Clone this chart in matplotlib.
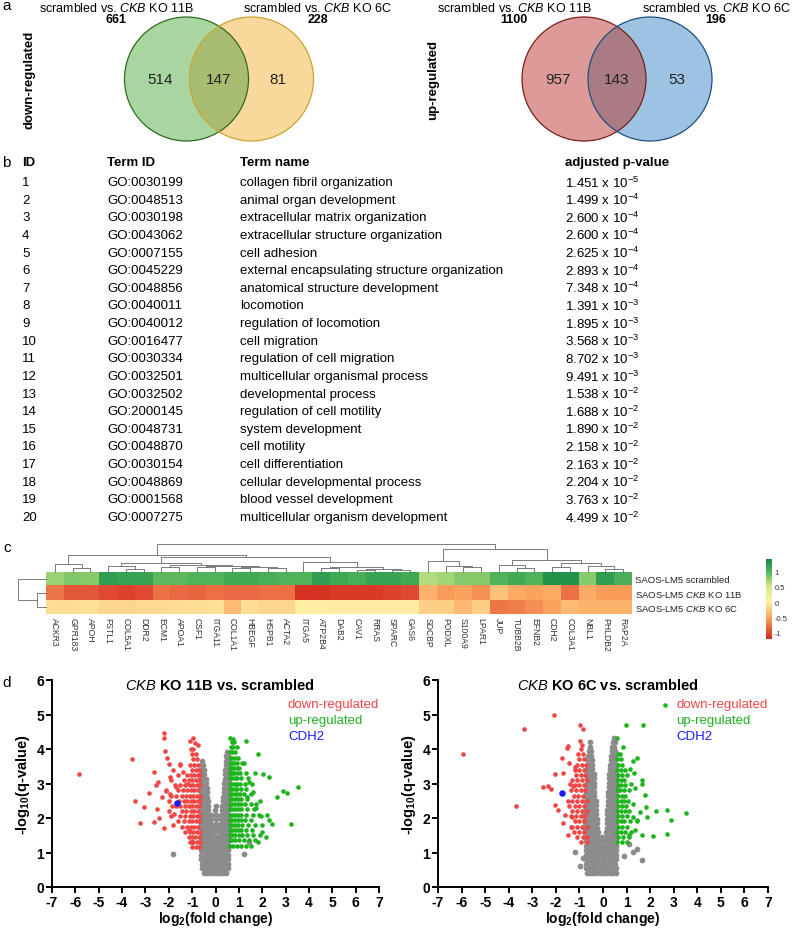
import numpy as np
import matplotlib
matplotlib.use('Agg')
import matplotlib.pyplot as plt
from matplotlib.patches import Circle
from matplotlib.colors import LinearSegmentedColormap, Normalize

plt.rcParams['font.family'] = ['Liberation Sans', 'DejaVu Sans']
plt.rcParams['mathtext.fontset'] = 'custom'
plt.rcParams['mathtext.rm'] = 'Liberation Sans'
plt.rcParams['mathtext.it'] = 'Liberation Sans:italic'
plt.rcParams['mathtext.bf'] = 'Liberation Sans:bold'
plt.rcParams['axes.unicode_minus'] = False

# ---- a: Venn counts ----
venn_titles = ['scrambled vs. $\\mathit{CKB}$ KO 11B', 'scrambled vs. $\\mathit{CKB}$ KO 6C']
down_counts = [514, 147, 81]
down_totals = [661, 228]
up_counts = [957, 143, 53]
up_totals = [1100, 196]

# ---- b: GO table ----
go_ids = ['GO:0030199', 'GO:0048513', 'GO:0030198', 'GO:0043062', 'GO:0007155',
          'GO:0045229', 'GO:0048856', 'GO:0040011', 'GO:0040012', 'GO:0016477',
          'GO:0030334', 'GO:0032501', 'GO:0032502', 'GO:2000145', 'GO:0048731',
          'GO:0048870', 'GO:0030154', 'GO:0048869', 'GO:0001568', 'GO:0007275']
go_names = ['collagen fibril organization', 'animal organ development',
            'extracellular matrix organization', 'extracellular structure organization',
            'cell adhesion', 'external encapsulating structure organization',
            'anatomical structure development', 'locomotion', 'regulation of locomotion',
            'cell migration', 'regulation of cell migration', 'multicellular organismal process',
            'developmental process', 'regulation of cell motility', 'system development',
            'cell motility', 'cell differentiation', 'cellular developmental process',
            'blood vessel development', 'multicellular organism development']
padj_mant = ['1.451', '1.499', '2.600', '2.600', '2.625', '2.893', '7.348', '1.391', '1.895', '3.568',
             '8.702', '9.491', '1.538', '1.688', '1.890', '2.158', '2.163', '2.204', '3.763', '4.499']
padj_exp = [-5, -4, -4, -4, -4, -4, -4, -3, -3, -3, -3, -3, -2, -2, -2, -2, -2, -2, -2, -2]

# ---- c: heatmap ----
genes = ['ACKR3', 'GPR183', 'APOH', 'FSTL1', 'COL5A1', 'DDR2', 'ECM1', 'APOA1', 'CSF1', 'ITGA11',
         'COL1A1', 'HBEGF', 'HSPB1', 'ACTA2', 'ITGA5', 'ATP2B4', 'DAB2', 'CAV1', 'RRAS', 'SPARC',
         'GAS6', 'SDCBP', 'PODXL', 'S100A9', 'LPAR1', 'JUP', 'TUBB2B', 'EFNB2', 'CDH2', 'COL3A1',
         'NBL1', 'PHLDB2', 'RAP2A']
samples = ['SAOS-LM5 scrambled', 'SAOS-LM5 $\\mathit{CKB}$ KO 11B', 'SAOS-LM5 $\\mathit{CKB}$ KO 6C']
z_scrambled = [0.72, 0.82, 0.8, 1.2, 1.15, 1.15, 0.95, 0.95, 1.0, 1.0, 1.1, 1.1, 1.05, 1.0, 1.0, 1.2, 1.1,
               1.05, 1.15, 1.15, 1.1, 0.62, 0.68, 0.8, 0.8, 1.0, 1.1, 1.0, 1.3, 1.3, 0.8, 1.2, 1.05]
z_ko11b = [-0.75, -0.92, -0.92, -1.0, -1.05, -1.0, -0.78, -0.82, -0.85, -0.78, -0.82, -0.82, -0.78, -0.78,
           -1.15, -1.15, -1.1, -1.1, -1.1, -1.05, -1.0, -0.4, -0.55, -0.5, -0.6, -0.3, -0.45, -0.5,
           -0.45, -0.78, -0.45, -0.55, -0.55]
z_ko6c = [-0.12, -0.12, -0.1, -0.17, -0.17, -0.15, -0.15, -0.12, -0.12, -0.1, -0.35, -0.12, -0.17, -0.17,
          -0.02, -0.02, -0.04, -0.04, -0.04, -0.04, -0.04, -0.22, -0.22, -0.36, -0.22, -0.75, -0.72,
          -0.62, -0.5, -0.35, -0.4, -0.4, -0.4]
# colour scale stops (value, colour)
cbar_stops = [(-1.2, '#d42d1f'), (-1.0, '#df4a33'), (-0.5, '#fca45e'), (0.0, '#fff0a6'),
              (0.5, '#d4ec88'), (1.0, '#52b45a'), (1.4, '#138a45')]
# dendrograms: (left, right, height), leaves are gene / sample indices
col_tree = (((0, (1, 2, 4), 8),
             (((3, (4, 5, 3), 6.5), ((6, 7, 5), ((8, 9, 5.5), ((10, 11, 4), (12, 13, 4), 5), 6.5), 7.5), 9),
              (14, ((15, 16, 4.5), ((17, 18, 2.5), (19, 20, 2), 3.5), 5.5), 10), 15), 17.5),
            ((21, (22, (23, 24, 5), 6.5), 11),
             ((25, (26, 27, 4), 7), ((28, 29, 5), (30, (31, 32, 3.5), 6), 9.5), 12), 23), 28)
row_tree = (0, (1, 2, 9), 28)

# ---- d: volcano plots (log2 FC, -log10 q) ----
v1_gray = [
    (0.42, [-0.5, -0.36, -0.22, -0.08, 0.06, 0.2, 0.34, 0.45]),
    (0.54, [-0.56, -0.42, -0.28, -0.14, 0.0, 0.14, 0.28, 0.42, 0.52]),
    (0.67, [-0.58, -0.45, -0.31, -0.17, -0.03, 0.11, 0.25, 0.39, 0.52]),
    (0.8, [-0.6, -0.47, -0.33, -0.19, -0.06, 0.07, 0.2, 0.33, 0.45, 0.54]),
    (0.93, [-0.6, -0.47, -0.34, -0.21, -0.08, 0.05, 0.18, 0.31, 0.43, 0.54]),
    (1.06, [-0.62, -0.49, -0.36, -0.23, -0.1, 0.03, 0.16, 0.29, 0.42, 0.54]),
    (1.19, [-0.62, -0.5, -0.37, -0.24, -0.11, 0.02, 0.15, 0.28, 0.41, 0.54]),
    (1.32, [-0.62, -0.5, -0.38, -0.26, -0.13, 0.0, 0.14, 0.27, 0.4, 0.54]),
    (1.45, [-0.62, -0.5, -0.38, -0.26, -0.14, 0.0, 0.16, 0.29, 0.42, 0.54]),
    (1.58, [-0.62, -0.5, -0.38, -0.27, -0.16, -0.02, 0.18, 0.3, 0.43, 0.54]),
    (1.71, [-0.62, -0.5, -0.39, -0.28, -0.17, 0.0, 0.2, 0.32, 0.44, 0.54]),
    (1.84, [-0.62, -0.51, -0.4, -0.29, -0.18, 0.01, 0.22, 0.33, 0.45, 0.55]),
    (1.97, [-0.62, -0.51, -0.4, -0.3, -0.2, 0.0, 0.23, 0.34, 0.45, 0.55]),
    (2.1, [-0.62, -0.51, -0.41, -0.31, -0.21, 0.01, 0.25, 0.35, 0.46, 0.55]),
    (2.23, [-0.62, -0.52, -0.42, -0.32, -0.02, 0.27, 0.37, 0.47, 0.55]),
    (2.36, [-0.62, -0.52, -0.43, -0.33, 0.0, 0.29, 0.38, 0.47, 0.55]),
    (2.49, [-0.62, -0.52, -0.43, -0.34, 0.31, 0.4, 0.48, 0.55]),
    (2.62, [-0.62, -0.53, -0.44, -0.35, 0.33, 0.41, 0.49, 0.55]),
    (2.75, [-0.62, -0.53, -0.45, -0.37, 0.35, 0.42, 0.5, 0.56]),
    (2.88, [-0.62, -0.54, -0.46, -0.38, 0.37, 0.44, 0.51, 0.56]),
    (3.01, [-0.62, -0.54, -0.47, -0.4, 0.38, 0.45, 0.51, 0.56]),
    (3.14, [-0.62, -0.55, -0.48, -0.42, 0.4, 0.46, 0.52, 0.56]),
    (3.27, [-0.61, -0.55, -0.49, 0.41, 0.47, 0.52, 0.56]),
    (3.4, [-0.6, -0.54, -0.49, 0.42, 0.48, 0.53, 0.56]),
    (3.53, [-0.58, -0.53, 0.43, 0.49, 0.54]),
    (3.66, [-0.56, 0.45, 0.5, 0.55]),
    (3.79, [0.47, 0.53]),
    (3.92, [0.5]),
    (0.95, [-1.8, 1.2]),
    (1.3, [-1.0, 1.45]),
]
v1_down = [
    (1.15, [-1.0, -0.85, -0.7]),
    (1.3, [-1.1, -0.95, -0.8, -0.67]),
    (1.45, [-1.15, -1.0, -0.86, -0.72]),
    (1.6, [-1.3, -1.1, -0.95, -0.8, -0.67]),
    (1.75, [-1.45, -1.2, -1.05, -0.9, -0.75]),
    (1.9, [-1.6, -1.35, -1.15, -1.0, -0.85, -0.7]),
    (2.05, [-1.9, -1.5, -1.3, -1.1, -0.95, -0.8, -0.67]),
    (2.2, [-2.0, -1.45, -1.25, -1.05, -0.9, -0.75]),
    (2.35, [-1.7, -1.5, -1.3, -1.15, -1.0, -0.85, -0.7]),
    (2.5, [-2.0, -1.55, -1.35, -1.2, -1.05, -0.9, -0.76, -0.66]),
    (2.65, [-1.9, -1.7, -1.45, -1.25, -1.1, -0.95, -0.8, -0.68]),
    (2.8, [-2.1, -1.6, -1.4, -1.2, -1.05, -0.9, -0.75]),
    (2.95, [-1.75, -1.5, -1.3, -1.1, -0.95, -0.8, -0.68]),
    (3.1, [-1.9, -1.35, -1.15, -1.0, -0.85, -0.7]),
    (3.25, [-1.6, -1.2, -1.05, -0.9, -0.75, -0.65]),
    (3.4, [-1.8, -1.0, -0.85, -0.7]),
    (3.55, [-1.5, -1.1, -0.9, -0.75]),
    (3.7, [-0.95, -0.8]),
    (3.85, [-1.0, -0.85]),
    (4.0, [-1.05, -0.95]),
    (3.27, [-5.83]), (3.7, [-3.58]), (2.48, [-3.46]), (2.33, [-3.08]), (1.86, [-3.25]),
    (2.72, [-2.84]), (3.32, [-2.65]), (1.89, [-2.65]), (3.03, [-2.47]), (4.47, [-2.22]),
    (4.33, [-2.2]), (3.94, [-2.18]), (3.75, [-2.08]), (3.56, [-2.01]), (2.79, [-2.11]),
    (2.36, [-1.87]), (1.79, [-1.84]), (2.11, [-1.77]), (3.56, [-1.51]), (3.32, [-1.4]),
    (2.99, [-1.23]), (1.65, [-1.15]), (4.23, [-1.08]), (4.33, [-0.98]), (4.18, [-0.87]),
    (4.13, [-0.77]), (2.6, [-2.3]), (2.0, [-2.4]), (2.25, [-2.5]), (3.2, [-1.95]),
    (2.9, [-1.7]), (1.7, [-2.2]), (2.7, [-1.95]), (2.95, [-2.55]),
]
v1_up = [
    (1.2, [0.6, 0.75, 0.9, 1.1, 1.3, 1.5]),
    (1.35, [0.6, 0.72, 0.85, 1.0, 1.2, 1.45, 1.7]),
    (1.5, [0.6, 0.72, 0.85, 1.0, 1.15, 1.35, 1.6, 1.9]),
    (1.65, [0.6, 0.72, 0.85, 0.98, 1.1, 1.3, 1.55]),
    (1.8, [0.6, 0.72, 0.85, 0.98, 1.15, 1.4, 1.7, 2.0]),
    (1.95, [0.6, 0.72, 0.85, 0.97, 1.1, 1.25, 1.5]),
    (2.1, [0.6, 0.72, 0.84, 0.96, 1.1, 1.3, 1.6, 1.85]),
    (2.25, [0.6, 0.72, 0.84, 0.96, 1.1, 1.35, 1.65]),
    (2.4, [0.6, 0.72, 0.84, 0.95, 1.08, 1.25, 1.5, 1.75]),
    (2.55, [0.6, 0.72, 0.84, 0.95, 1.1, 1.35]),
    (2.7, [0.6, 0.72, 0.83, 0.94, 1.05, 1.2, 1.5]),
    (2.85, [0.6, 0.72, 0.83, 0.94, 1.08, 1.3]),
    (3.0, [0.6, 0.71, 0.82, 0.93, 1.05, 1.25, 1.55]),
    (3.15, [0.6, 0.71, 0.82, 0.93, 1.1, 1.4]),
    (3.3, [0.6, 0.7, 0.8, 0.92, 1.05, 1.3]),
    (3.45, [0.6, 0.7, 0.8, 0.9, 1.02]),
    (3.6, [0.6, 0.7, 0.8, 0.92, 1.15]),
    (3.75, [0.6, 0.7, 0.82, 0.95]),
    (3.9, [0.62, 0.72, 0.85]),
    (4.05, [0.65, 0.75, 0.9]),
    (4.2, [0.7, 0.8]),
    (2.91, [3.55]), (1.84, [3.22]), (2.72, [3.05]), (2.78, [2.88]), (2.62, [2.62]),
    (1.82, [2.41]), (1.93, [2.31]), (2.08, [2.2]), (1.45, [2.15]), (3.27, [2.05]),
    (3.85, [1.84]), (3.18, [2.27]), (4.23, [1.3]), (4.28, [0.77]), (4.33, [0.63]),
    (2.5, [1.9]), (2.3, [1.75]), (1.6, [2.0]), (2.75, [1.6]), (1.3, [1.8]),
    (2.05, [1.95]), (3.05, [1.45]), (3.3, [1.7]), (3.6, [1.2]), (2.6, [1.35]),
]
v1_cdh2 = [(2.44, [-1.63])]

v2_gray = [
    (0.42, [-0.7, -0.56, -0.42, -0.28, -0.14, 0.0, 0.14, 0.28, 0.42, 0.54]),
    (0.55, [-0.72, -0.58, -0.44, -0.3, -0.16, -0.02, 0.12, 0.26, 0.4, 0.54]),
    (0.68, [-0.72, -0.59, -0.46, -0.32, -0.18, -0.04, 0.1, 0.24, 0.38, 0.52]),
    (0.81, [-0.73, -0.6, -0.47, -0.33, -0.2, -0.06, 0.08, 0.22, 0.36, 0.5, 0.57]),
    (0.94, [-0.74, -0.6, -0.47, -0.33, -0.2, -0.06, 0.08, 0.22, 0.36, 0.5, 0.57]),
    (1.07, [-0.74, -0.6, -0.47, -0.33, -0.19, -0.05, 0.09, 0.23, 0.37, 0.5, 0.57]),
    (1.2, [-0.74, -0.6, -0.47, -0.33, -0.19, -0.05, 0.12, 0.26, 0.4, 0.56]),
    (1.33, [-0.74, -0.61, -0.48, -0.34, -0.2, -0.06, 0.12, 0.26, 0.4, 0.56]),
    (1.46, [-0.74, -0.61, -0.48, -0.35, -0.21, -0.06, 0.13, 0.27, 0.41, 0.56]),
    (1.59, [-0.75, -0.62, -0.49, -0.36, -0.22, 0.14, 0.28, 0.42, 0.56]),
    (1.72, [-0.75, -0.62, -0.5, -0.37, -0.24, 0.15, 0.29, 0.43, 0.56]),
    (1.85, [-0.75, -0.63, -0.5, -0.38, -0.26, 0.16, 0.3, 0.43, 0.56]),
    (1.98, [-0.75, -0.63, -0.51, -0.39, -0.27, 0.17, 0.31, 0.44, 0.56]),
    (2.11, [-0.75, -0.63, -0.51, -0.39, -0.28, 0.18, 0.31, 0.44, 0.56]),
    (2.24, [-0.74, -0.62, -0.5, -0.39, -0.29, 0.19, 0.32, 0.45, 0.56]),
    (2.37, [-0.74, -0.62, -0.5, -0.39, -0.3, 0.2, 0.33, 0.45, 0.56]),
    (2.5, [-0.73, -0.61, -0.5, -0.39, -0.3, 0.21, 0.33, 0.45, 0.56]),
    (2.63, [-0.72, -0.6, -0.49, -0.38, 0.22, 0.34, 0.46, 0.56]),
    (2.76, [-0.71, -0.6, -0.49, -0.38, 0.23, 0.35, 0.46, 0.56]),
    (2.89, [-0.7, -0.59, -0.48, -0.38, 0.24, 0.36, 0.47, 0.56]),
    (3.02, [-0.7, -0.59, -0.48, -0.38, 0.25, 0.37, 0.47, 0.56]),
    (3.15, [-0.69, -0.58, -0.48, -0.39, 0.26, 0.37, 0.48, 0.56]),
    (3.28, [-0.68, -0.58, -0.48, -0.4, 0.27, 0.38, 0.48, 0.56]),
    (3.41, [-0.67, -0.57, -0.47, 0.28, 0.39, 0.49, 0.56]),
    (3.54, [-0.66, -0.56, -0.47, 0.3, 0.4, 0.5, 0.56]),
    (3.67, [-0.64, -0.55, -0.47, 0.32, 0.42, 0.51]),
    (3.8, [-0.62, -0.53, 0.34, 0.44, 0.52]),
    (3.93, [-0.6, -0.52, 0.37, 0.46, 0.53]),
    (4.06, [-0.57, 0.4, 0.48]),
    (4.2, [-0.55, 0.43, 0.5]),
    (4.33, [0.46]),
    (1.02, [-1.19, 1.28]), (0.6, [-0.97]), (1.1, [1.43]), (0.78, [1.64]),
    (0.85, [-0.85]), (0.9, [0.9]), (1.25, [1.1]),
]
v2_down = [
    (1.3, [-0.95, -0.7]),
    (1.45, [-1.1, -0.85, -0.68]),
    (1.6, [-1.25, -1.0, -0.8]),
    (1.75, [-1.35, -1.1, -0.9, -0.7]),
    (1.9, [-1.2, -1.0, -0.8]),
    (2.05, [-1.35, -1.15, -0.95, -0.75]),
    (2.2, [-1.3, -1.1, -0.9, -0.7]),
    (2.35, [-1.45, -1.2, -1.0, -0.8]),
    (2.5, [-1.3, -1.1, -0.9, -0.7]),
    (2.65, [-1.25, -1.05, -0.85]),
    (2.8, [-1.35, -1.15, -0.95, -0.75]),
    (2.95, [-1.2, -1.0, -0.8]),
    (3.1, [-1.3, -1.1, -0.9, -0.7]),
    (3.25, [-1.15, -0.95, -0.75]),
    (3.4, [-1.2, -1.0, -0.8]),
    (3.55, [-1.1, -0.9, -0.72]),
    (3.7, [-1.0, -0.8]),
    (3.85, [-1.05, -0.85]),
    (4.0, [-0.95]),
    (3.85, [-5.94]), (2.34, [-3.68]), (4.57, [-3.37]), (2.9, [-2.53]), (2.93, [-2.32]),
    (2.83, [-2.22]), (5.0, [-2.06]), (3.28, [-2.03]), (2.38, [-2.03]), (2.23, [-1.92]),
    (3.74, [-1.72]), (3.31, [-1.68]), (1.86, [-1.71]), (1.52, [-1.47]), (1.74, [-1.33]),
    (2.02, [-1.33]), (4.03, [-1.54]), (4.09, [-1.47]), (2.93, [-1.26]), (3.47, [-1.19]),
    (4.71, [-0.97]), (4.57, [-0.83]), (4.22, [-0.97]), (4.12, [-0.9]), (3.6, [-1.45]),
    (2.5, [-1.5]), (2.1, [-1.6]), (3.0, [-1.4]),
]
v2_up = [
    (1.3, [0.6, 0.8, 1.0]),
    (1.45, [0.62, 0.85, 1.1]),
    (1.6, [0.6, 0.78, 0.95, 1.2]),
    (1.75, [0.62, 0.8, 1.0]),
    (1.9, [0.6, 0.75, 0.9, 1.15]),
    (2.05, [0.62, 0.8, 1.0]),
    (2.2, [0.6, 0.76, 0.92, 1.1]),
    (2.35, [0.62, 0.8, 0.98]),
    (2.5, [0.6, 0.75, 0.9, 1.08]),
    (2.65, [0.62, 0.8, 0.95]),
    (2.8, [0.6, 0.74, 0.9, 1.1]),
    (2.95, [0.62, 0.78, 0.95]),
    (3.1, [0.6, 0.75, 0.9]),
    (3.25, [0.62, 0.8, 1.0]),
    (3.4, [0.6, 0.75, 0.92]),
    (3.55, [0.63, 0.8]),
    (3.7, [0.6, 0.75]),
    (3.85, [0.62, 0.72]),
    (4.71, [0.96]), (4.69, [1.68]), (5.27, [2.62]), (4.31, [0.58]), (4.06, [0.86]),
    (3.74, [1.43]), (3.65, [1.28]), (3.41, [1.14]), (3.09, [1.67]), (3.0, [1.67]),
    (2.88, [1.35]), (2.66, [1.78]), (2.31, [1.82]), (2.04, [1.88]), (2.4, [1.28]),
    (2.17, [1.57]), (2.19, [2.24]), (2.24, [2.72]), (1.93, [2.88]), (2.14, [3.51]),
    (1.53, [2.7]), (1.48, [2.13]), (1.52, [1.64]), (1.64, [1.35]), (1.93, [1.43]),
    (2.02, [1.28]), (3.0, [1.2]), (3.3, [1.3]), (1.9, [1.45]), (1.5, [1.1]),
]
v2_cdh2 = [(2.72, [-1.72])]


def rows_to_xy(rows):
    xs, ys = [], []
    for y, row in rows:
        xs += row
        ys += [y] * len(row)
    return np.array(xs), np.array(ys)


def draw_tree(ax, node, top=True):
    if isinstance(node, int):
        return node, 0.0
    left, right, h = node
    pl, hl = draw_tree(ax, left, top)
    pr, hr = draw_tree(ax, right, top)
    if top:
        ax.plot([pl, pl, pr, pr], [hl, h, h, hr], color='#666666', lw=0.6, clip_on=False)
    else:
        ax.plot([hl, h, h, hr], [pl, pl, pr, pr], color='#666666', lw=0.6, clip_on=False)
    return (pl + pr) / 2, h


W, H = 794, 929
fig = plt.figure(figsize=(W / 100, H / 100), dpi=100)

# overlay axes in pixel coordinates for panels a and b
ax0 = fig.add_axes([0, 0, 1, 1])
ax0.set_xlim(0, W)
ax0.set_ylim(H, 0)
ax0.axis('off')


def venn(cx1, cx2, cy, r, fills, edges, overlap, counts, totals, side, sx):
    c1 = Circle((cx1, cy), r, fc=fills[0], ec='none')
    c2 = Circle((cx2, cy), r, fc=fills[1], ec='none')
    ax0.add_patch(c1)
    ax0.add_patch(c2)
    ov = Circle((cx1, cy), r, fc=overlap, ec='none')
    ax0.add_patch(ov)
    ov.set_clip_path(c2)
    ax0.add_patch(Circle((cx1, cy), r, fill=False, ec=edges[0], lw=0.9))
    ax0.add_patch(Circle((cx2, cy), r, fill=False, ec=edges[1], lw=0.9))
    d = cx2 - cx1
    for x, n in zip([cx1 - 0.4 * d, (cx1 + cx2) / 2, cx2 + 0.4 * d], counts):
        ax0.text(x, cy, str(n), ha='center', va='center', fontsize=11, color='#222222')
    for x, t, n in zip([cx1 - 70, cx2 + 66], venn_titles, totals):
        ax0.text(x, 8, t, ha='center', va='center', fontsize=9)
        ax0.text(x, 20, str(n), ha='center', va='center', fontsize=9, fontweight='bold')
    ax0.text(sx, cy, side, ha='center', va='center', rotation=90, fontsize=9.5, fontweight='bold')


venn(186.5, 251.5, 80, 62, ['#a9d6a0', '#f9d89c'], ['#2f6b20', '#c9a430'], '#a9bd72',
     down_counts, down_totals, 'down-regulated', 30)
venn(584, 650, 80, 62, ['#de9a98', '#9dc2e2'], ['#7a1f1f', '#1e4f82'], '#a97b85',
     up_counts, up_totals, 'up-regulated', 433)

# panel labels
for lbl, x, y in [('a', 2, 6), ('b', 2, 163), ('c', 3, 548), ('d', 2, 683)]:
    ax0.text(x, y, lbl, ha='left', va='center', fontsize=11)

# table b
ty0, dy = 163, 17.63
for x, t in [(22, 'ID'), (107, 'Term ID'), (240, 'Term name'), (565, 'adjusted p-value')]:
    ax0.text(x, ty0, t, ha='left', va='center', fontsize=9.5, fontweight='bold')
for i in range(len(go_ids)):
    y = ty0 + 20 + i * dy
    ax0.text(22, y, str(i + 1), ha='left', va='center', fontsize=9.5)
    ax0.text(107, y, go_ids[i], ha='left', va='center', fontsize=9.5)
    ax0.text(240, y, go_names[i], ha='left', va='center', fontsize=9.5)
    ax0.text(565, y, f'{padj_mant[i]} x 10$^{{{padj_exp[i]}}}$', ha='left', va='center', fontsize=9.5)

# heatmap c
vmin, vmax = cbar_stops[0][0], cbar_stops[-1][0]
cmap = LinearSegmentedColormap.from_list(
    'hm', [((v - vmin) / (vmax - vmin), c) for v, c in cbar_stops])
hm_l, hm_r, hm_t, hm_b = 46, 632, 573, 615
axh = fig.add_axes([hm_l / W, 1 - hm_b / H, (hm_r - hm_l) / W, (hm_b - hm_t) / H])
vals = np.array([z_scrambled, z_ko11b, z_ko6c])
im = axh.imshow(vals, cmap=cmap, norm=Normalize(vmin, vmax), aspect='auto', interpolation='nearest')
axh.set_xticks(range(len(genes)))
axh.set_xticklabels(genes, rotation=270, fontsize=6.2, color='#333333')
axh.set_yticks(range(len(samples)))
axh.set_yticklabels(samples, fontsize=6.8, color='#222222')
axh.yaxis.tick_right()
axh.tick_params(length=0, pad=2)
for s in axh.spines.values():
    s.set_visible(False)

axd = fig.add_axes([hm_l / W, 1 - hm_t / H, (hm_r - hm_l) / W, 28 / H])
axd.set_xlim(-0.5, len(genes) - 0.5)
axd.set_ylim(0, 28)
axd.axis('off')
draw_tree(axd, col_tree, top=True)

axr = fig.add_axes([5 / W, 1 - hm_b / H, 41 / W, (hm_b - hm_t) / H])
axr.set_ylim(2.5, -0.5)
axr.set_xlim(41, 0)
axr.axis('off')
draw_tree(axr, row_tree, top=False)

cax = fig.add_axes([766 / W, 1 - 640 / H, 6 / W, 80 / H])
cb = fig.colorbar(im, cax=cax, ticks=[-1, -0.5, 0, 0.5, 1])
cb.ax.set_yticklabels(['-1', '-0.5', '0', '0.5', '1'])
cb.ax.tick_params(length=0, labelsize=5.5, pad=2, colors='#333333')
cb.outline.set_visible(False)

# volcano plots d
volcanoes = [
    (52, 327, v1_gray, v1_down, v1_up, v1_cdh2, '$\\mathit{CKB}$ KO 11B vs. scrambled'),
    (438, 330, v2_gray, v2_down, v2_up, v2_cdh2, '$\\mathit{CKB}$ KO 6C vs. scrambled'),
]
for left, width, g, dn, upr, cd, title in volcanoes:
    ax = fig.add_axes([left / W, 1 - 888 / H, width / W, 207 / H])
    for rows, col, s in [(g, '#8c8c8c', 17), (dn, '#f04646', 11), (upr, '#1eb41e', 11), (cd, '#1a1aff', 22)]:
        x, y = rows_to_xy(rows)
        ax.scatter(x, y, s=s, c=col, linewidths=0, zorder=3)
    ax.set_xlim(-7, 7)
    ax.set_ylim(0, 6)
    ax.set_xticks(range(-7, 8))
    ax.set_yticks(range(0, 7))
    for sp in ['top', 'right']:
        ax.spines[sp].set_visible(False)
    for sp in ['left', 'bottom']:
        ax.spines[sp].set_linewidth(1.4)
    ax.tick_params(width=1.4, length=4, labelsize=10, pad=1.5)
    for t in ax.get_xticklabels() + ax.get_yticklabels():
        t.set_fontweight('bold')
    ax.set_xlabel('log$_\\mathbf{2}$(fold change)', fontsize=10, fontweight='bold', labelpad=0)
    ax.set_ylabel('-log$_\\mathbf{10}$(q-value)', fontsize=10.5, fontweight='bold', labelpad=3)
    ax.text(0.2, 5.88, title, ha='center', va='center', fontsize=10.5, fontweight='bold')
    ax.text(3.1, 5.3, 'down-regulated', color='#f04646', fontsize=9.5, va='center')
    ax.text(3.1, 4.84, 'up-regulated', color='#1eb41e', fontsize=9.5, va='center')
    ax.text(3.1, 4.38, 'CDH2', color='#1a1aff', fontsize=9.5, va='center')
    ax.patch.set_alpha(0)

fig.savefig('out.png', dpi=100)
